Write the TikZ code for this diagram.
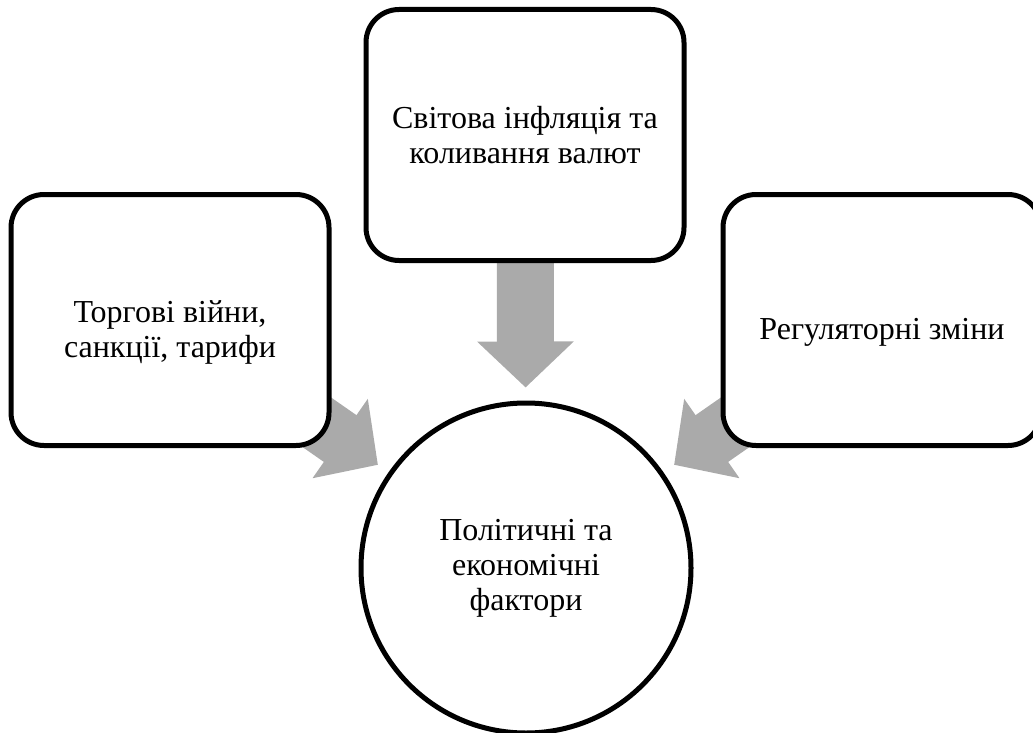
\documentclass[tikz,border=0pt]{standalone}
\usepackage{fontspec}
\setmainfont{Liberation Serif}
\usetikzlibrary{arrows.meta,backgrounds}
\definecolor{arrowgray}{RGB}{170,170,170}
\newcommand{\lowstrut}{\rule{0pt}{46pt}}
\tikzset{
  factor/.style={draw, line width=5pt, rounded corners=33pt, fill=white,
    minimum width=318pt, minimum height=251pt, align=center,
    font=\fontsize{32}{35}\selectfont},
  hub/.style={draw, circle, line width=5pt, fill=white, minimum size=330pt,
    align=center, font=\fontsize{32}{35}\selectfont},
  bigarrow/.style={draw=arrowgray, line width=57pt,
    -{Triangle[length=46pt, width=94pt, fill=arrowgray]}, shorten >=13pt}
}
\begin{document}
\begin{tikzpicture}[x=1pt, y=-1pt]
  \useasboundingbox (0,0) rectangle (1033,733);
  % the centre circle
  \node[hub] (polit) at (526,568) {Політичні та\\економічні\\фактори};
  % the three boxes
  \node[factor] (infl) at (525,135) {Світова інфляція та\\коливання валют};
  \node[factor] (trade) at (170,320) {\lowstrut Торгові війни,\\санкції, тарифи};
  \node[factor] (regul) at (882,320) {\lowstrut Регуляторні зміни};
  % block arrows behind the boxes
  \begin{scope}[on background layer]
    \draw[bigarrow] (infl.center) -- (polit);
    \draw[bigarrow] (trade.center) -- (polit);
    \draw[bigarrow] (regul.center) -- (polit);
  \end{scope}
\end{tikzpicture}
\end{document}
